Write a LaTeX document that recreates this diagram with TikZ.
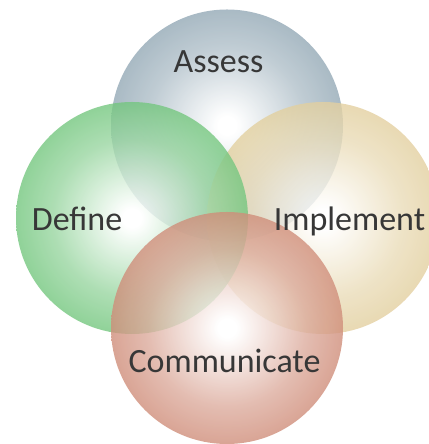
\documentclass[tikz,border=0pt]{standalone}
\usepackage{fontspec}
\setmainfont{Carlito}
\definecolor{assesscol}{RGB}{112,140,157}
\definecolor{definecol}{RGB}{70,180,84}
\definecolor{implcol}{RGB}{217,192,128}
\definecolor{commcol}{RGB}{192,104,78}
\definecolor{labelcol}{RGB}{55,55,55}
\pgfdeclareradialshading{assessball}{\pgfpoint{0bp}{0bp}}{color(0bp)=(white); color(2bp)=(white); color(17bp)=(assesscol!55!white); color(35bp)=(assesscol); color(50bp)=(assesscol)}
\pgfdeclareradialshading{defineball}{\pgfpoint{0bp}{0bp}}{color(0bp)=(white); color(2bp)=(white); color(17bp)=(definecol!55!white); color(35bp)=(definecol); color(50bp)=(definecol)}
\pgfdeclareradialshading{implball}{\pgfpoint{0bp}{0bp}}{color(0bp)=(white); color(2bp)=(white); color(17bp)=(implcol!55!white); color(35bp)=(implcol); color(50bp)=(implcol)}
\pgfdeclareradialshading{commball}{\pgfpoint{0bp}{0bp}}{color(0bp)=(white); color(2bp)=(white); color(17bp)=(commcol!55!white); color(35bp)=(commcol); color(50bp)=(commcol)}
\tikzset{
  ball/.style={circle, minimum size=232pt, inner sep=0pt, fill opacity=0.8},
  lbl/.style={anchor=base, text=labelcol, font=\fontsize{34}{40}\selectfont, inner sep=0pt}
}
\begin{document}
\begin{tikzpicture}[x=1pt,y=1pt]
\useasboundingbox (0,0) rectangle (428,444);
\node[ball, shade, shading=assessball] (assess) at (227,318.5) {};
\node[ball, shade, shading=implball] (impl) at (323,226) {};
\node[ball, shade, shading=defineball] (define) at (132,226) {};
\node[ball, shade, shading=commball] (comm) at (227,116) {};
\node[lbl] (tA) at (218.5,371.3) {Assess};
\node[lbl] (tD) at (77,213) {Define};
\node[lbl] (tI) at (349.5,213) {Implement};
\node[lbl] (tC) at (224.5,71) {Communicate};
\end{tikzpicture}
\end{document}
